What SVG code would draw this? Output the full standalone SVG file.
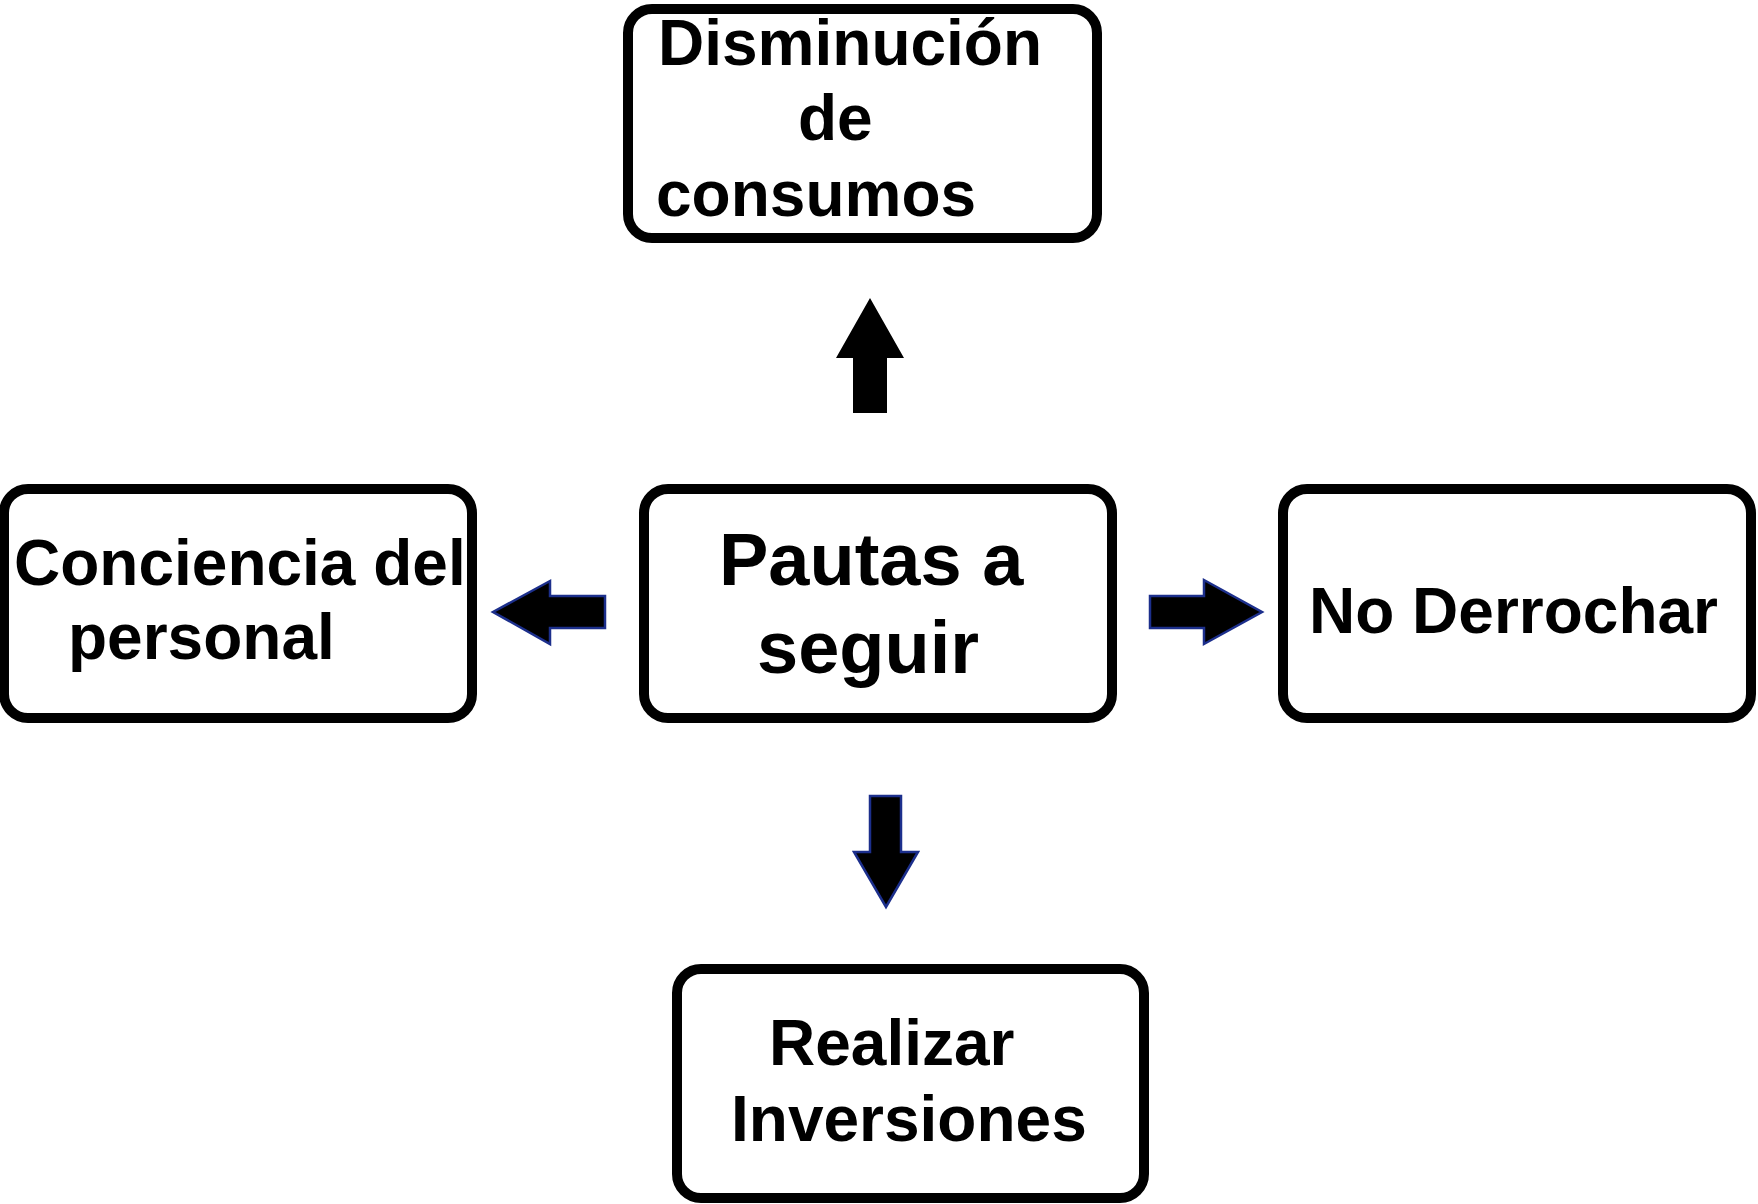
<svg xmlns="http://www.w3.org/2000/svg" width="1758" height="1204" viewBox="0 0 1758 1204">
<style>
.box{fill:#fff;stroke:#000;stroke-width:10}
.t{font-family:"Liberation Sans",Arial,sans-serif;font-weight:bold;fill:#000;font-size:64px}
.big{font-size:74px}
.arr{fill:#000;stroke:#1c2f8c;stroke-width:2.5;stroke-linejoin:miter}
</style>
<rect width="1758" height="1204" fill="#fff"/>
<g id="connectors">
<polygon points="853,413 887,413 887,358 904,358 870,298 836,358 853,358" fill="#000"/>
<polygon class="arr" points="605,596 605,628 550,628 550,644 493,612 550,581 550,596"/>
<polygon class="arr" points="1150,596 1150,628 1204,628 1204,644 1262,612 1204,580 1204,596"/>
<polygon class="arr" points="870,796 901,796 901,852 918,852 886,907 854,852 870,852"/>
</g>
<g id="node-disminucion">
<rect class="box" x="628" y="9" width="469" height="229" rx="24"/>
<text class="t" x="658" y="65">Disminución</text>
<text class="t" x="798" y="140">de</text>
<text class="t" x="656" y="216">consumos</text>
</g>
<g id="node-conciencia">
<rect class="box" x="4" y="489" width="468" height="229" rx="24"/>
<text class="t" x="14" y="585">Conciencia del</text>
<text class="t" x="68" y="659">personal</text>
</g>
<g id="node-pautas">
<rect class="box" x="644" y="489" width="468" height="229" rx="24"/>
<text class="t big" x="719" y="585">Pautas a</text>
<text class="t big" x="757" y="673">seguir</text>
</g>
<g id="node-derrochar">
<rect class="box" x="1283" y="489" width="468" height="229" rx="24"/>
<text class="t" x="1309" y="633">No Derrochar</text>
</g>
<g id="node-inversiones">
<rect class="box" x="677" y="969" width="467" height="229" rx="24"/>
<text class="t" x="769" y="1065">Realizar</text>
<text class="t" x="731" y="1141">Inversiones</text>
</g>
</svg>
